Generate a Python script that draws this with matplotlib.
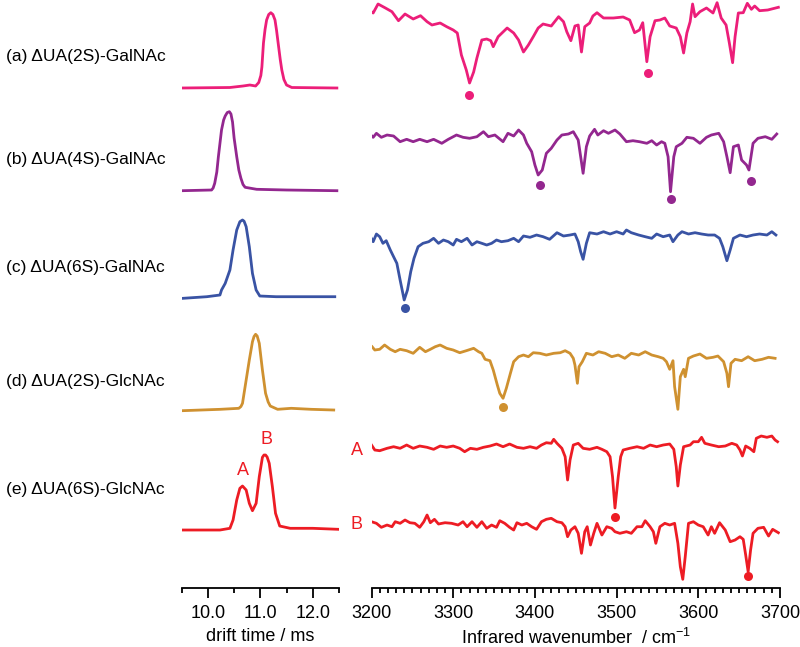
import numpy as np
import matplotlib
matplotlib.use('Agg')
import matplotlib.pyplot as plt
from matplotlib.ticker import MultipleLocator

plt.rcParams['font.family'] = ['Liberation Sans', 'DejaVu Sans']
plt.rcParams['mathtext.fontset'] = 'custom'
plt.rcParams['mathtext.rm'] = 'Liberation Sans'

# ---- data ----
names = ['(a) ΔUA(2S)-GalNAc', '(b) ΔUA(4S)-GalNAc', '(c) ΔUA(6S)-GalNAc',
         '(d) ΔUA(2S)-GlcNAc', '(e) ΔUA(6S)-GlcNAc']
colors = ['#EC1E79', '#93278F', '#3953A4', '#CF9130', '#ED1C24']

# drift time traces (ms, arbitrary intensity)
t_a = [9.50, 10.42, 10.67, 10.80, 10.91, 10.97, 11.01, 11.03, 11.06, 11.09, 11.12, 11.16, 11.20,
       11.24, 11.28, 11.31, 11.34, 11.38, 11.41, 11.45, 11.50, 11.60, 12.46]
i_a = [-0.5, 0, 1.5, 2.5, 1.5, 5, 12, 20.5, 44.5, 58, 67.5, 73, 74.8,
       73, 67.5, 57, 44.5, 28, 17.5, 8, 2.5, 0, -0.5]
t_b = [9.50, 10.07, 10.10, 10.13, 10.17, 10.20, 10.26, 10.30, 10.33, 10.37, 10.41, 10.44, 10.47,
       10.50, 10.55, 10.59, 10.63, 10.67, 10.71, 10.93, 11.50, 12.46]
i_b = [-0.7, 0, 2, 6.7, 18, 33.3, 60, 70, 74, 77.5, 78.3, 76, 68,
       52, 33.3, 20, 11.7, 5.5, 2.7, 0.7, 0, -0.7]
t_c = [9.50, 9.98, 10.23, 10.26, 10.33, 10.42, 10.48, 10.55, 10.61, 10.66, 10.69, 10.73,
       10.79, 10.85, 10.92, 10.99, 11.30, 11.80, 12.42]
i_c = [-0.7, 1, 2.7, 7.7, 14.3, 27.7, 47.7, 67.7, 76, 77.7, 76.5, 71,
       51, 24.3, 7.7, 1.7, 1, 1, 1]
t_d = [9.50, 10.24, 10.59, 10.63, 10.66, 10.72, 10.79, 10.85, 10.88, 10.91, 10.94, 10.98, 11.04,
       11.10, 11.15, 11.19, 11.33, 11.59, 11.97, 12.40]
i_d = [-0.7, 0.7, 1.7, 3.5, 6.7, 26.7, 50, 68.3, 73.5, 75.7, 74, 66.7, 40,
       16.7, 8, 4, 0.7, 1.7, 0.7, 0]
t_e = [9.50, 10.23, 10.42, 10.48, 10.55, 10.61, 10.66, 10.73, 10.79, 10.85, 10.92,
       10.98, 11.04, 11.07, 11.10, 11.13, 11.17, 11.23, 11.29, 11.37, 11.57, 12.00, 12.49]
i_e = [0, 0, 1.7, 10, 30, 41.7, 44, 40, 26.7, 19.3, 26.7,
       53.3, 72.7, 75, 75, 73, 66.7, 43.3, 16.7, 4, 1.7, 1.7, 0.7]

# IR spectra (cm-1, relative signal)
wn_a = [3198, 3202, 3208, 3217, 3225, 3233, 3241, 3251, 3260, 3268, 3274, 3284, 3292,
        3300, 3305, 3310, 3316, 3320, 3325, 3329, 3335, 3341, 3346, 3349, 3355, 3366,
        3374, 3380, 3386, 3392, 3398, 3404, 3410, 3420, 3429, 3435, 3439, 3444, 3449,
        3453, 3457, 3461, 3467, 3471, 3476, 3484, 3496, 3508, 3516, 3522, 3528, 3532,
        3537, 3541, 3547, 3553, 3559, 3565, 3573, 3578, 3582, 3586, 3590, 3593, 3596,
        3602, 3610, 3618, 3623, 3628, 3634, 3638, 3642, 3645, 3649, 3655, 3660, 3665,
        3669, 3675, 3685, 3698]
ir_a = [9.3, 7, 16, 12, 8.3, -0.7, 6, 1, 4.3, -1.7, -5, -3, -6.7,
        -10, -13, -35, -50, -63, -52, -38, -20, -19, -20.7, -26.7, -16.7, -8,
        -13, -20, -32, -25, -16.7, -8, -4, -6, 3.3, -1.7, -11.7, -20.7, -6,
        -5, -32, -6.7, -3, 4, 7.3, 2, 2, 3, 0, -12.7, -10, -2.7,
        -41.7, -16.7, -0.7, 0, 2, -6, -8, -16.7, -33, -13, -1.7, 16, 3.3,
        8.3, 12, 7, 17.3, 2, -5, -23, -42.7, -16.7, 7, 7.3, 16.7, 10.7,
        14, 9.3, 10, 12.7]
wn_b = [3198, 3202, 3206, 3212, 3219, 3227, 3235, 3243, 3251, 3259, 3268, 3276, 3286,
        3294, 3304, 3312, 3320, 3329, 3337, 3343, 3351, 3361, 3367, 3374, 3380, 3386,
        3390, 3396, 3400, 3404, 3409, 3414, 3420, 3427, 3433, 3441, 3447, 3453, 3456,
        3459, 3463, 3467, 3473, 3477, 3484, 3490, 3498, 3504, 3512, 3520, 3528, 3537,
        3543, 3549, 3555, 3559, 3563, 3566, 3570, 3573, 3580, 3586, 3594, 3602, 3610,
        3616, 3625, 3631, 3635, 3639, 3643, 3649, 3653, 3659, 3662, 3667, 3673, 3682,
        3690, 3696]
ir_b = [4, 0.7, 4.7, 0.7, 3, 2, -3.7, -1.3, -3.7, -1.3, -3.7, -1.3, -5.3,
        -1.3, 3, 0.7, -0.3, 1.3, 6.3, 1.3, 3, -3.7, 4.7, 2, 8, 3,
        -5.3, -13.7, -27, -37, -32, -15.3, -10.3, -2, 3, 4, 6.3, -2, -18.7,
        -35.3, -8.7, 2, 8.7, 3, 7.3, 4.7, 8, 4, -3.7, -2.7, -3.7, -5.3,
        -2.7, -7, -3.7, -5.3, -18.7, -53.7, -18.7, -8.7, -5.3, 0.7, -0.3, -5.3, 0.7,
        3, 4.7, -3.7, -18.7, -34.7, -8.7, -7, -22, -27, -32, -5.3, -0.3, 1.3,
        -1.3, 4]
wn_c = [3197, 3202, 3206, 3210, 3214, 3218, 3223, 3227, 3231, 3235, 3240, 3244, 3248,
        3252, 3257, 3263, 3270, 3276, 3282, 3288, 3294, 3300, 3304, 3310, 3317, 3323,
        3329, 3335, 3341, 3347, 3353, 3359, 3367, 3374, 3380, 3386, 3394, 3402, 3410,
        3418, 3427, 3435, 3443, 3449, 3453, 3456, 3459, 3463, 3467, 3476, 3484, 3492,
        3500, 3508, 3512, 3518, 3527, 3535, 3543, 3549, 3557, 3565, 3569, 3575, 3580,
        3588, 3596, 3604, 3612, 3620, 3626, 3630, 3635, 3639, 3643, 3651, 3659, 3667,
        3675, 3684, 3690, 3695]
ir_c = [4, -3.7, 4, 1.3, -5.3, -2.7, -12, -18.7, -25.3, -42, -62, -52, -33.7,
        -20.3, -8.7, -5.3, -3.7, -0.3, -5.3, -2, -3.7, -7, -1.3, -3.7, -0.3, -7,
        -3.7, -5.3, -7, -5.3, -2, -3.7, -2.7, -0.3, -3.7, 2, 0.7, 3, 1.3,
        -1.3, 5.3, 2, 3, 4, -3.7, -13.7, -21.3, -5.3, 5.3, 4, 6.3, 4,
        6.3, 4, 8, 5.3, 3, 1.3, -0.3, 4, 1.3, 3, -3.7, 3, 6.3,
        4, 5.3, 4, 3, 3, -0.3, -8.7, -22.7, -12, -0.3, 3, 1.3, 3,
        4, 3, 6.3, 3]
wn_d = [3195, 3200, 3204, 3210, 3216, 3223, 3229, 3235, 3243, 3251, 3259, 3266, 3272,
        3278, 3284, 3292, 3300, 3308, 3316, 3325, 3331, 3335, 3339, 3345, 3349, 3354,
        3357, 3361, 3365, 3370, 3374, 3380, 3386, 3392, 3398, 3406, 3414, 3423, 3431,
        3437, 3443, 3447, 3449, 3452, 3454, 3458, 3463, 3471, 3478, 3486, 3494, 3502,
        3510, 3518, 3527, 3535, 3543, 3551, 3557, 3561, 3565, 3569, 3571, 3575, 3578,
        3582, 3584, 3588, 3594, 3602, 3610, 3618, 3624, 3631, 3635, 3637, 3640, 3645,
        3653, 3661, 3669, 3678, 3686, 3694]
ir_d = [1.7, 4, 0, 0.7, 5, 0.7, -1.7, 0.7, -0.7, -3.3, 2.7, -1.7, 0.7,
        3.3, 5, 1.7, 0, -2.7, -0.7, 1.7, -1.7, -3.3, -9.3, -10.7, -20, -35,
        -43.3, -48.3, -38.3, -23.3, -11.7, -6.7, -5, -6.7, -2.7, -3.3, -5, -3.3, -2.7,
        -0.7, -3.3, -8.3, -15, -33.3, -16.7, -11.7, -3.3, -5, -1.7, -3.3, -6.7, -5,
        -8.3, -3.3, -5, -1.7, -5, -6.7, -8.3, -11.7, -19.3, -10.7, -36.7, -59.3, -26.7,
        -19.3, -26.7, -8.3, -6, -4, -8.3, -7.3, -6, -11.7, -23.3, -36.7, -13.3, -9.3,
        -10.7, -6.7, -10.7, -9.3, -7.3, -8.3]
wn_eA = [3200, 3204, 3210, 3219, 3227, 3235, 3243, 3251, 3259, 3268, 3276, 3284, 3292,
         3300, 3308, 3314, 3321, 3329, 3337, 3345, 3353, 3361, 3369, 3378, 3386, 3394,
         3402, 3408, 3414, 3420, 3423, 3427, 3433, 3437, 3440, 3443, 3447, 3453, 3459,
         3467, 3476, 3482, 3488, 3492, 3495, 3498, 3502, 3505, 3508, 3516, 3525, 3533,
         3541, 3549, 3557, 3565, 3570, 3573, 3575, 3578, 3582, 3590, 3594, 3600, 3604,
         3608, 3616, 3625, 3633, 3641, 3647, 3651, 3654, 3658, 3663, 3668, 3671, 3677,
         3684, 3690, 3694, 3697]
ir_eA = [3, -2, -2.7, -0.3, 1.3, -0.3, 3, -0.3, 2, 0.7, -1.3, 2, 0.7,
         2, -0.3, -3.7, -0.3, -1.3, 0.7, 2, 4, 1.3, 4, 0.7, -0.3, 1.3,
         -0.3, 3, 5.3, 4.7, 8.7, 4.7, -0.3, -8.7, -32, -12, 3, 4.7, -0.3,
         -1.3, 0.7, -1.3, -3.7, -8.7, -28.7, -60, -28.7, -8.7, -2, -0.3, 1.3, -0.3,
         3, 1.3, 3, 4, -1.3, -18.7, -38, -17, 1.3, 3, 6.3, 6.3, 10.7,
         4.7, 3, 1.3, 2, 4.7, 3, -2, -8, 2, -0.3, -3.7, 9.7, 12,
         10.7, 12, 8, 6.3]
wn_eB = [3200, 3206, 3212, 3219, 3225, 3229, 3235, 3241, 3247, 3253, 3259, 3264, 3268,
         3272, 3277, 3282, 3290, 3298, 3306, 3312, 3317, 3323, 3329, 3335, 3341, 3347,
         3353, 3357, 3363, 3369, 3374, 3378, 3384, 3390, 3396, 3402, 3408, 3414, 3420,
         3427, 3433, 3437, 3440, 3444, 3449, 3453, 3457, 3461, 3464, 3468, 3472, 3476,
         3482, 3488, 3494, 3498, 3504, 3512, 3518, 3525, 3531, 3535, 3541, 3545, 3548,
         3553, 3559, 3565, 3571, 3575, 3578, 3581, 3584, 3588, 3594, 3600, 3606, 3612,
         3616, 3620, 3626, 3633, 3639, 3645, 3651, 3655, 3658, 3661, 3664, 3667, 3673,
         3680, 3686, 3691, 3698]
ir_eB = [1.3, -0.3, -4.3, -2, -3.7, 1.3, -0.3, 3, 0.3, -0.3, -4.3, 1.3, 8,
         0.3, 3.7, -1, 0.3, -0.3, -2, 1.3, -3.7, 1.3, -4.3, 1.3, -5.3, -2,
         -4.3, 2.3, -0.3, -4.3, -7, 0.3, -2, -0.3, -3.7, -6.3, 1.3, 3.7, 4.7,
         1.3, 0.3, -3.7, -13.7, -7, -3.7, -10.3, -30.3, -8.7, -3.7, -22, -10.3, -0.3,
         -12, -3.7, -5.3, -8.7, -10.3, -8.7, -10.3, -3.7, -3.7, 2.3, -3.7, -8.7, -20.3,
         -3.7, -0.3, -2, -0.3, -20.3, -43.7, -56.3, -33.7, -0.3, 1.3, -2, -3.7, -12,
         -3.7, -10.3, 0.3, -7, -18.7, -17, -13.7, -16.3, -32, -48.7, -27, -10.3, -5.3,
         -4.3, -13, -6.3, -9.7]

# marked bands (wavenumber, signal) for each spectrum
dots_a = ([3319, 3539], [-75, -52.7])
dots_b = ([3406, 3566, 3664], [-47, -61.3, -42.7])
dots_c = ([3241], [-69.7])
dots_d = ([3361], [-57.3])
dots_eA = ([3498], [-68.7])
dots_eB = ([3661], [-53])

drift = [(t_a, i_a), (t_b, i_b), (t_c, i_c), (t_d, i_d), (t_e, i_e)]
spectra = [(wn_a, ir_a, dots_a, colors[0]), (wn_b, ir_b, dots_b, colors[1]),
           (wn_c, ir_c, dots_c, colors[2]), (wn_d, ir_d, dots_d, colors[3]),
           (wn_eA, ir_eA, dots_eA, colors[4]), (wn_eB, ir_eB, dots_eB, colors[4])]

# vertical stacking (baseline positions, in axis units)
drift_off = [500.8, 398.3, 290.6, 178.3, 58.3]
ir_off = [568.3, 450.3, 350.3, 238.3, 140.3, 65.3]
label_y = [0.913, 0.753, 0.586, 0.410, 0.243]

fig = plt.figure(figsize=(8, 6.47), dpi=100)
ax1 = fig.add_axes([0.2271, 0.0907, 0.1966, 0.9093])
ax2 = fig.add_axes([0.4644, 0.0907, 0.5106, 0.9093])

for ax in (ax1, ax2):
    for s in ('left', 'right', 'top'):
        ax.spines[s].set_visible(False)
    ax.spines['bottom'].set_linewidth(1.3)
    ax.set_yticks([])
    ax.set_ylim(0, 588.3)
    ax.tick_params(axis='x', which='major', direction='out', length=7, width=1.3,
                   labelsize=13, pad=5)
    ax.tick_params(axis='x', which='minor', direction='out', length=3.5, width=1.3)

lw = 2.0
for k, (t, v) in enumerate(drift):
    ax1.plot(t, np.array(v) + drift_off[k], color=colors[k], lw=lw)
    fig.text(0.008, label_y[k], names[k], fontsize=12.5, va='center', ha='left')

ax1.set_xlim(9.5, 12.5)
ax1.xaxis.set_major_locator(MultipleLocator(1.0))
ax1.xaxis.set_minor_locator(MultipleLocator(0.5))
ax1.set_xticks([10.0, 11.0, 12.0])
ax1.set_xticklabels(['10.0', '11.0', '12.0'])
ax1.set_xlabel('drift time / ms', fontsize=13, labelpad=4)

# A / B labels on the (e) drift trace
ax1.text(10.67, drift_off[4] + 60, 'A', color=colors[4], fontsize=13, ha='center', va='center')
ax1.text(11.11, drift_off[4] + 91, 'B', color=colors[4], fontsize=13, ha='center', va='center')

for k, (w, v, dots, c) in enumerate(spectra):
    ax2.plot(w, np.array(v) + ir_off[k], color=c, lw=lw)
    ax2.plot(dots[0], np.array(dots[1]) + ir_off[k], 'o', color=c, ms=6.5, mec='none')

ax2.text(3182, ir_off[4] - 2, 'A', color=colors[4], fontsize=13, ha='center', va='center')
ax2.text(3182, ir_off[5] - 1, 'B', color=colors[4], fontsize=13, ha='center', va='center')

ax2.set_xlim(3200, 3700)
ax2.xaxis.set_major_locator(MultipleLocator(100))
ax2.xaxis.set_minor_locator(MultipleLocator(10))
ax2.set_xlabel(r'Infrared wavenumber  / cm$^{-1}$', fontsize=13, labelpad=4)

fig.savefig('out.png', dpi=100)
